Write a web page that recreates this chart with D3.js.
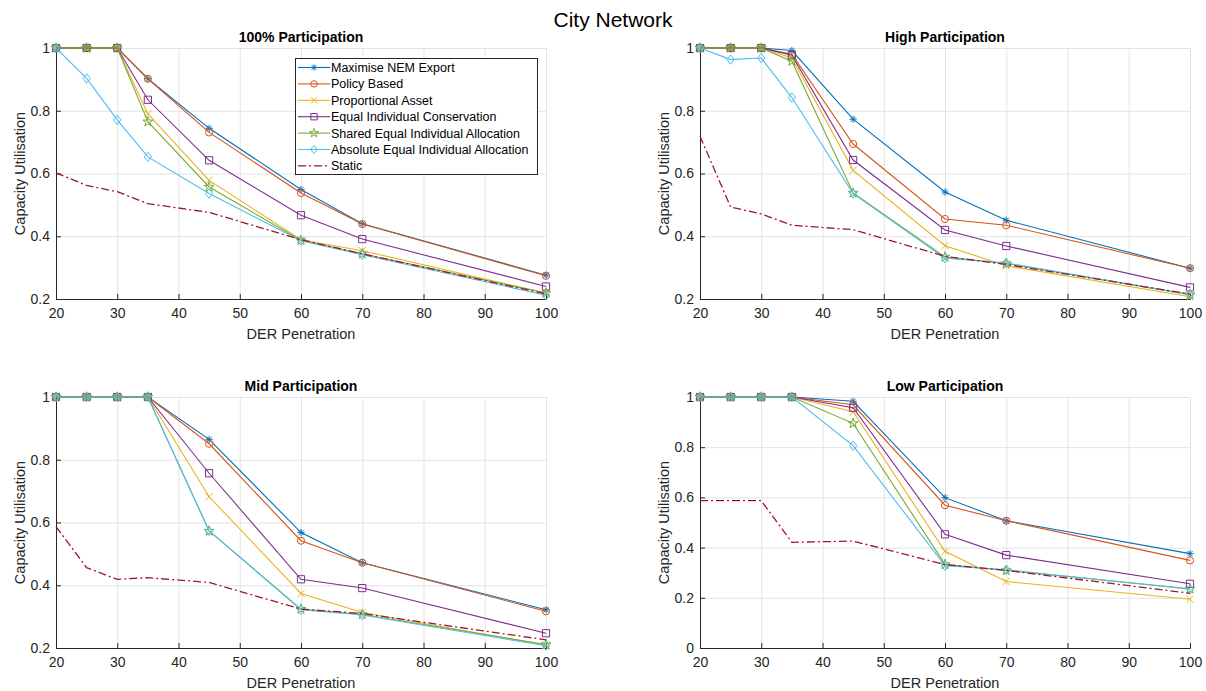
<!DOCTYPE html>
<html>
<head>
<meta charset="utf-8">
<script src="https://cdn.jsdelivr.net/npm/d3@7"></script>
<style>
  body { margin: 0; background: #fff; }
  text { font-family: "Liberation Sans", Arial, sans-serif; fill: #262626; }
</style>
</head>
<body>
<div id="chart"></div>
<script>
var svgWidth = 1206;
var svgHeight = 691;

// DER penetration levels (x) shared by every panel
var xValues = [20, 25, 30, 35, 45, 60, 70, 100];

var seriesNames = [
    "Maximise NEM Export",
    "Policy Based",
    "Proportional Asset",
    "Equal Individual Conservation",
    "Shared Equal Individual Allocation",
    "Absolute Equal Individual Allocation",
    "Static"
];

// one row per series, in seriesNames order
var fullParticipation = [
    [1, 1, 1, 0.902, 0.744, 0.549, 0.440, 0.276],
    [1, 1, 1, 0.902, 0.731, 0.538, 0.439, 0.274],
    [1, 1, 1, 0.790, 0.578, 0.389, 0.354, 0.219],
    [1, 1, 1, 0.835, 0.642, 0.467, 0.391, 0.240],
    [1, 1, 1, 0.765, 0.557, 0.387, 0.344, 0.219],
    [1, 0.903, 0.771, 0.653, 0.536, 0.386, 0.341, 0.212],
    [0.602, 0.562, 0.542, 0.504, 0.476, 0.389, 0.344, 0.216]
];

var highParticipation = [
    [1, 1, 1, 0.992, 0.773, 0.541, 0.451, 0.298],
    [1, 1, 1, 0.980, 0.694, 0.455, 0.435, 0.298],
    [1, 1, 1, 0.968, 0.610, 0.370, 0.306, 0.207],
    [1, 1, 1, 0.977, 0.643, 0.420, 0.369, 0.237],
    [1, 1, 1, 0.958, 0.538, 0.334, 0.313, 0.214],
    [1, 0.963, 0.968, 0.842, 0.536, 0.330, 0.315, 0.214],
    [0.719, 0.493, 0.471, 0.435, 0.421, 0.336, 0.310, 0.216]
];

var midParticipation = [
    [1, 1, 1, 1, 0.865, 0.568, 0.472, 0.322],
    [1, 1, 1, 1, 0.851, 0.542, 0.472, 0.317],
    [1, 1, 1, 1, 0.682, 0.374, 0.313, 0.209],
    [1, 1, 1, 1, 0.757, 0.419, 0.391, 0.247],
    [1, 1, 1, 1, 0.573, 0.324, 0.307, 0.211],
    [1, 1, 1, 1, 0.573, 0.322, 0.305, 0.207],
    [0.587, 0.456, 0.419, 0.424, 0.409, 0.324, 0.310, 0.226]
];

var lowParticipation = [
    [1, 1, 1, 1, 0.983, 0.599, 0.507, 0.376],
    [1, 1, 1, 1, 0.969, 0.569, 0.507, 0.349],
    [1, 1, 1, 1, 0.941, 0.385, 0.265, 0.194],
    [1, 1, 1, 1, 0.957, 0.453, 0.370, 0.256],
    [1, 1, 1, 1, 0.895, 0.333, 0.309, 0.236],
    [1, 1, 1, 1, 0.806, 0.328, 0.312, 0.234],
    [0.587, 0.587, 0.587, 0.421, 0.426, 0.332, 0.309, 0.218]
];

var xTicks = [20, 30, 40, 50, 60, 70, 80, 90, 100];
var yTicksHigh = [0.2, 0.4, 0.6, 0.8, 1];
var yTicksLow = [0, 0.2, 0.4, 0.6, 0.8, 1];

var colors = ["#0072BD", "#D95319", "#EDB120", "#7E2F8E", "#77AC30", "#4DBEEE", "#A2142F"];
var markers = ["asterisk", "circle", "x", "square", "star", "diamond", null];

var panels = [
    { title: "100% Participation", data: fullParticipation, yMin: 0.2, yTicks: yTicksHigh, left: 56, top: 48, legend: true },
    { title: "High Participation", data: highParticipation, yMin: 0.2, yTicks: yTicksHigh, left: 700, top: 48 },
    { title: "Mid Participation", data: midParticipation, yMin: 0.2, yTicks: yTicksHigh, left: 56, top: 397 },
    { title: "Low Participation", data: lowParticipation, yMin: 0, yTicks: yTicksLow, left: 700, top: 397 }
];

var width = 490;
var height = 251;

var svg = d3.select("#chart")
    .append("svg")
    .attr("width", svgWidth)
    .attr("height", svgHeight);

svg.append("text")
    .attr("x", 613)
    .attr("y", 27)
    .attr("text-anchor", "middle")
    .style("font-size", "21px")
    .style("fill", "#000")
    .text("City Network");

// marker path centred on 0,0
function markerPath(kind, s) {
    if (kind === "circle") {
        return d3.symbol(d3.symbolCircle, Math.PI * s * s)();
    }
    if (kind === "square") {
        return `M${-s},${-s}H${s}V${s}H${-s}Z`;
    }
    if (kind === "diamond") {
        var d = s * 1.3;
        return `M0,${-d}L${s},0L0,${d}L${-s},0Z`;
    }
    if (kind === "x") {
        return `M${-s},${-s}L${s},${s}M${-s},${s}L${s},${-s}`;
    }
    if (kind === "asterisk") {
        var a = s * 0.72;
        return `M0,${-s}V${s}M${-s},0H${s}M${-a},${-a}L${a},${a}M${-a},${a}L${a},${-a}`;
    }
    if (kind === "star") {
        return d3.symbol(d3.symbolStar, s * s * 2.4)();
    }
    return "";
}

panels.forEach(function (p) {
    var xScale = d3.scaleLinear().domain([20, 100]).range([0, width]);
    var yScale = d3.scaleLinear().domain([p.yMin, 1]).range([height, 0]);

    var g = svg.append("g")
        .attr("transform", `translate(${p.left}, ${p.top})`);

    // grid
    g.append("g")
        .selectAll("line")
        .data(xTicks)
        .enter()
        .append("line")
        .attr("x1", d => xScale(d) + 0.5)
        .attr("x2", d => xScale(d) + 0.5)
        .attr("y1", 0)
        .attr("y2", height)
        .attr("stroke", "#e3e3e3");

    g.append("g")
        .selectAll("line")
        .data(p.yTicks)
        .enter()
        .append("line")
        .attr("x1", 0)
        .attr("x2", width)
        .attr("y1", d => yScale(d) + 0.5)
        .attr("y2", d => yScale(d) + 0.5)
        .attr("stroke", "#e3e3e3");

    // axes
    var bottomAxis = d3.axisBottom(xScale).tickValues(xTicks).tickSize(-5).tickPadding(9).tickFormat(d3.format("d"));
    var leftAxis = d3.axisLeft(yScale).tickValues(p.yTicks).tickSize(-5).tickPadding(6).tickFormat(d => d === 1 || d === 0 ? String(d) : d3.format(".1f")(d));

    var xAxis = g.append("g")
        .attr("transform", `translate(0, ${height})`)
        .call(bottomAxis);
    var yAxis = g.append("g").call(leftAxis);

    [xAxis, yAxis].forEach(function (ax) {
        ax.select(".domain").attr("stroke", "#262626");
        ax.selectAll(".tick line").attr("stroke", "#262626");
        ax.selectAll(".tick text")
            .style("font-family", "'Liberation Sans', Arial, sans-serif")
            .style("font-size", "14px")
            .attr("fill", "#262626");
    });

    g.append("text")
        .attr("x", width / 2)
        .attr("y", -6)
        .attr("text-anchor", "middle")
        .style("font-size", "14px")
        .style("font-weight", "bold")
        .style("fill", "#000")
        .text(p.title);

    g.append("text")
        .attr("x", width / 2)
        .attr("y", height + 40)
        .attr("text-anchor", "middle")
        .style("font-size", "14.5px")
        .text("DER Penetration");

    g.append("text")
        .attr("transform", `translate(${-31}, ${height / 2}) rotate(-90)`)
        .attr("text-anchor", "middle")
        .style("font-size", "14.5px")
        .text("Capacity Utilisation");

    var line = d3.line()
        .x((d, i) => xScale(xValues[i]))
        .y(d => yScale(d));

    p.data.forEach(function (values, si) {
        var path = g.append("path")
            .datum(values)
            .attr("d", line)
            .attr("fill", "none")
            .attr("stroke", colors[si])
            .attr("stroke-width", 1.1);
        if (markers[si] === null) {
            path.attr("stroke-dasharray", "8,3,2,3").attr("stroke-width", 1.3);
            return;
        }
        g.append("g")
            .selectAll("path")
            .data(values)
            .enter()
            .append("path")
            .attr("transform", (d, i) => `translate(${xScale(xValues[i])}, ${yScale(d)})`)
            .attr("d", markerPath(markers[si], 3.6))
            .attr("fill", "none")
            .attr("stroke", colors[si])
            .attr("stroke-width", 1);
    });

    if (p.legend) {
        var lg = g.append("g").attr("transform", `translate(239, 10)`);
        lg.append("rect")
            .attr("x", 0.5)
            .attr("y", 0.5)
            .attr("width", 242)
            .attr("height", 116)
            .attr("fill", "#fff")
            .attr("stroke", "#262626")
            .attr("stroke-width", 1);
        seriesNames.forEach(function (name, si) {
            var ry = 9.5 + si * 16.4;
            var item = lg.append("g").attr("transform", `translate(0, ${ry})`);
            var seg = item.append("line")
                .attr("x1", 3)
                .attr("x2", 35)
                .attr("y1", 0)
                .attr("y2", 0)
                .attr("stroke", colors[si])
                .attr("stroke-width", 1.1);
            if (markers[si] === null) {
                seg.attr("stroke-dasharray", "8,3,2,3").attr("stroke-width", 1.3);
            } else {
                item.append("path")
                    .attr("transform", "translate(19, 0)")
                    .attr("d", markerPath(markers[si], 3.2))
                    .attr("fill", "none")
                    .attr("stroke", colors[si]);
            }
            item.append("text")
                .attr("x", 36)
                .attr("y", 4.5)
                .style("font-size", "12.5px")
                .style("fill", "#000")
                .text(name);
        });
    }
});
</script>
</body>
</html>
